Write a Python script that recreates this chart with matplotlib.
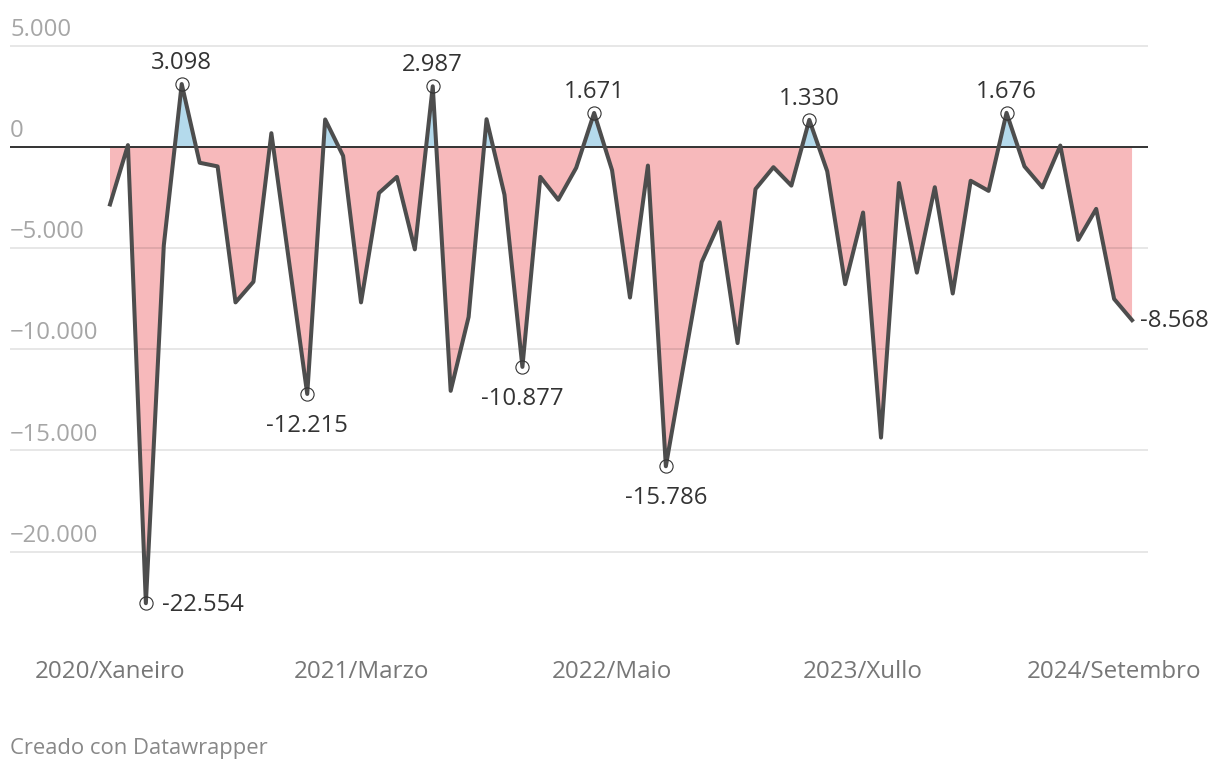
import numpy as np
import matplotlib
matplotlib.use("Agg")
import matplotlib.pyplot as plt

plt.rcParams["font.family"] = ["Open Sans", "DejaVu Sans"]

# monthly balance, 2020/Xaneiro .. 2024/Outubro
values = [
    -2850, 80, -22554, -4875, 3098, -790, -970, -7690, -6670, 670,
    -5770, -12215, 1350, -450, -7690, -2285, -1490, -5070, 2987, -12060,
    -8410, 1360, -2370, -10877, -1490, -2620, -1040, 1671, -1160, -7450,
    -930, -15786, -10730, -5700, -3730, -9700, -2090, -1010, -1920, 1330,
    -1210, -6790, -3250, -14370, -1790, -6220, -2000, -7250, -1680, -2180,
    1676, -970, -2010, 60, -4600, -3070, -7520, -8568,
]
month_ticks = [0, 14, 28, 42, 56]
month_labels = ["2020/Xaneiro", "2021/Marzo", "2022/Maio", "2023/Xullo", "2024/Setembro"]
y_ticks = [5000, 0, -5000, -10000, -15000, -20000]

# highlighted points and where their label goes
highlight_idx = [2, 4, 11, 18, 23, 27, 31, 39, 50]
highlight_side = ["right", "above", "below", "above", "below", "above", "below", "above", "above"]


def fmt(v, minus="-"):
    s = f"{abs(v):,}".replace(",", ".")
    return (minus + s) if v < 0 else s


x = np.arange(len(values))
y = np.array(values, dtype=float)

fig = plt.figure(figsize=(12.2, 7.7), dpi=100)
ax = fig.add_axes([10 / 1220, 0.1392, 1138 / 1220, 0.8279])
ax.set_xlim(-5.577, 57.89)
ax.set_ylim(-25500, 6000)
for s in ax.spines.values():
    s.set_visible(False)
ax.set_yticks([])

ax.fill_between(x, y, 0, where=y >= 0, interpolate=True, color="#b4daec", lw=0, zorder=1)
ax.fill_between(x, y, 0, where=y <= 0, interpolate=True, color="#f7b9bb", lw=0, zorder=1)

for t in y_ticks:
    if t == 0:
        ax.axhline(0, color="#333333", lw=1.4, zorder=3)
    else:
        ax.axhline(t, color="#000000", alpha=0.1, lw=1.3, zorder=2)
    ax.annotate(fmt(t, "\u2212"), (0, t), xycoords=ax.get_yaxis_transform(),
                xytext=(0, 7), textcoords="offset points", ha="left", va="baseline",
                fontsize=17.2, color="#a6a6a6", annotation_clip=False)

ax.plot(x, y, color="#4d4d4d", lw=2.9, solid_joinstyle="round", zorder=4)

ax.plot(x[highlight_idx], y[highlight_idx], "o", ms=9.5, mfc="none", mec="#333333",
        mew=0.8, zorder=5)

offsets = {"above": ((0, 15.2), "center", "center"),
           "below": ((0, -23.2), "center", "center"),
           "right": ((11.5, -1), "left", "center")}
for i, side in zip(highlight_idx, highlight_side):
    off, ha, va = offsets[side]
    ax.annotate(fmt(values[i]), (i, values[i]), xytext=off, textcoords="offset points",
                ha=ha, va=va, fontsize=17.2, color="#333333", annotation_clip=False, zorder=6)
# last value
ax.annotate(fmt(values[-1]), (x[-1], values[-1]), xytext=(6, -0.5), textcoords="offset points",
            ha="left", va="center", fontsize=17.2, color="#333333", annotation_clip=False)

ax.set_xticks(month_ticks)
ax.set_xticklabels(month_labels, fontsize=17.4, color="#777777")
ax.tick_params(axis="x", length=0, pad=6.8)
for lbl in ax.get_xticklabels():
    lbl.set_verticalalignment("center")

fig.text(10 / 1220, 1 - 748.5 / 770, "Creado con Datawrapper", ha="left", va="center",
         fontsize=15.8, color="#888888")

fig.savefig("out.png", dpi=100)
